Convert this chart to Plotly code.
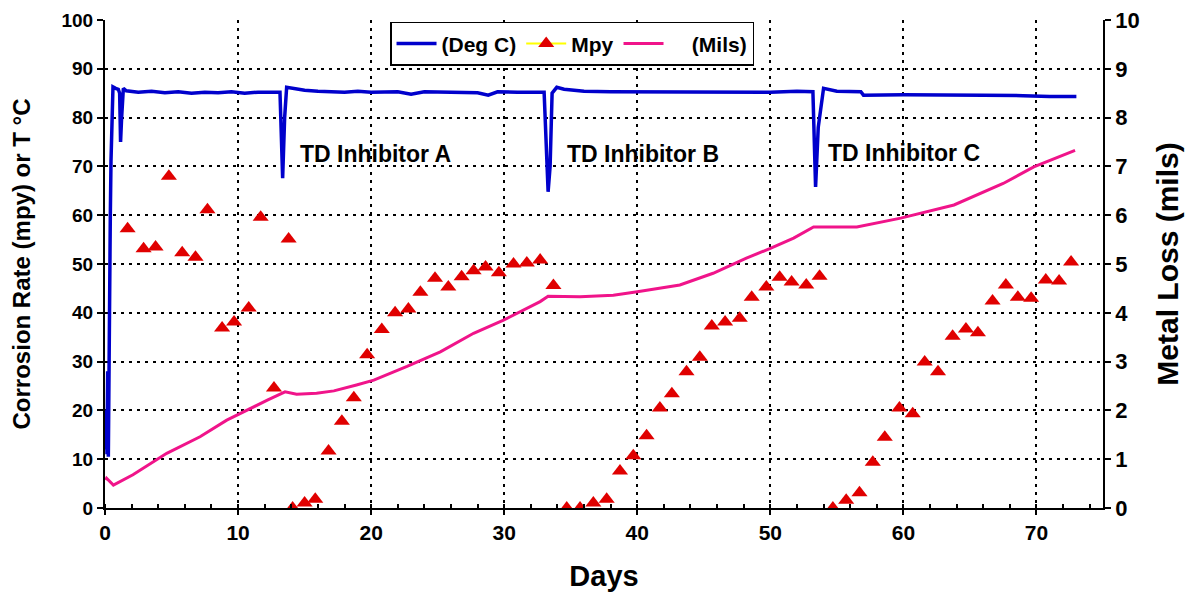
import plotly.graph_objects as go

# ---- Temperature (Deg C), left axis ----
temp_days = [0.05, 0.1, 0.15, 0.2, 0.25, 0.3, 0.35, 0.4, 0.45, 0.5, 0.6, 0.8, 1.0, 1.1, 1.17, 1.25, 1.38,
             1.6, 2.5, 3.5, 4.5, 5.5, 6.5, 7.5, 8.5, 9.5, 10.5, 11.5, 12.5, 13.15, 13.35, 13.5, 13.65,
             14.0, 15, 16, 17, 18, 19, 20, 22, 23, 24, 26, 28, 28.8, 29.5, 31, 33.0, 33.3, 33.45, 33.6,
             33.95, 34.5, 36, 38, 40, 42, 44, 46, 48, 50, 52, 53.2, 53.4, 53.6, 54.0, 55, 56.8, 57,
             60, 63, 66, 69, 71, 73]
temp_vals = [12, 20, 11, 28, 10.5, 33, 45, 60, 71, 78, 86.3, 86, 85.8, 85, 75, 80, 86,
             85.5, 85.2, 85.4, 85.1, 85.3, 85.0, 85.2, 85.1, 85.3, 85.0, 85.2, 85.1, 85.2, 67.6, 80, 86.2,
             86.0, 85.6, 85.4, 85.3, 85.2, 85.4, 85.2, 85.3, 84.8, 85.3, 85.2, 85.1, 84.6, 85.3, 85.2, 85.2, 64.8, 70, 85,
             86.2, 85.8, 85.4, 85.3, 85.3, 85.2, 85.3, 85.2, 85.3, 85.2, 85.4, 85.3, 65.8, 78, 86.0, 85.4, 85.3, 84.6,
             84.7, 84.7, 84.6, 84.5, 84.3, 84.3]

# ---- Corrosion rate (Mpy), left axis ----
mpy_days = [1.7, 2.9, 3.8, 4.8, 5.8, 6.8, 7.7, 8.8, 9.7, 10.8, 11.7, 12.7, 13.8, 14.1, 15.0, 15.8,
            16.8, 17.8, 18.7, 19.7, 20.8, 21.8, 22.8, 23.7, 24.8, 25.8, 26.8, 27.7, 28.6, 29.6, 30.7,
            31.7, 32.7, 33.7, 34.7, 35.7, 36.7, 37.7, 38.7, 39.7, 40.7, 41.7, 42.6, 43.7, 44.7, 45.6,
            46.6, 47.7, 48.6, 49.7, 50.7, 51.6, 52.7, 53.7, 54.7, 55.7, 56.7, 57.7, 58.6, 59.7, 60.7,
            61.6, 62.6, 63.7, 64.7, 65.6, 66.7, 67.7, 68.6, 69.6, 70.7, 71.7, 72.6]
mpy_vals = [57.2, 53.1, 53.5, 68.0, 52.3, 51.4, 61.1, 36.9, 38.1, 41.0, 59.6, 24.6, 55.1, 0, 1.0, 1.8,
            11.7, 17.8, 22.6, 31.4, 36.6, 40.0, 40.8, 44.2, 47.1, 45.3, 47.4, 48.6, 49.4, 48.2, 50.0,
            50.2, 50.8, 45.6, 0, 0, 1.0, 1.8, 7.6, 10.7, 14.8, 20.5, 23.4, 27.9, 30.9, 37.3,
            38.1, 38.9, 43.2, 45.3, 47.3, 46.3, 45.7, 47.5, 0, 1.6, 3.1, 9.4, 14.5, 20.5, 19.3,
            29.9, 27.9, 35.2, 36.7, 35.9, 42.4, 45.7, 43.2, 43.0, 46.7, 46.5, 50.4]

# ---- Metal loss (Mils), right axis ----
mils_days = [0.05, 0.12, 0.63, 2.1, 4.64, 7.14, 9.15, 10.65, 12.2, 13.53, 14.4, 15.9, 17.2, 18.9,
             20.2, 22.7, 25.2, 27.7, 29.95, 32.7, 33.3, 35.7, 38.2, 40, 43.2, 45.7, 48.2, 50, 51.75,
             53.25, 53.8, 56.5, 59.8, 63.8, 67.5, 69.8, 72.9]
mils_vals = [0.57, 0.61, 0.47, 0.68, 1.12, 1.46, 1.80, 2.01, 2.21, 2.38, 2.33, 2.35, 2.40, 2.52,
             2.62, 2.90, 3.20, 3.58, 3.85, 4.23, 4.34, 4.33, 4.36, 4.43, 4.57, 4.81, 5.12, 5.32, 5.53,
             5.76, 5.76, 5.76, 5.94, 6.21, 6.65, 6.99, 7.33]

mils_ticks = [0, 1, 2, 3, 4, 5, 6, 7, 8, 9, 10]

labels = ["TD Inhibitor A", "TD Inhibitor B", "TD Inhibitor C"]
label_x = [14.5, 34.6, 54.2]
label_y = [72.5, 72.5, 72.8]

FONT = "Arial, Liberation Sans, sans-serif"
BLUE = "#0000CC"
PINK = "#F0148A"
RED = "#E00000"

fig = go.Figure()
fig.add_trace(go.Scatter(x=temp_days, y=temp_vals, mode="lines", name="(Deg C)",
                         line=dict(color=BLUE, width=3.5)))
fig.add_trace(go.Scatter(x=mpy_days, y=mpy_vals, mode="markers", name="Mpy", showlegend=False,
                         marker=dict(symbol="triangle-up", size=14, color=RED)))
fig.add_trace(go.Scatter(x=[None], y=[None], mode="lines+markers", name="Mpy",
                         line=dict(color="#FFFF00", width=2),
                         marker=dict(symbol="triangle-up", size=14, color=RED)))
fig.add_trace(go.Scatter(x=mils_days, y=mils_vals, mode="lines", name="\u00a0\u00a0\u00a0\u00a0(Mils)",
                         line=dict(color=PINK, width=3), yaxis="y2"))

for t, x, y in zip(labels, label_x, label_y):
    fig.add_annotation(x=x, y=y, text=t, showarrow=False, xanchor="left", yanchor="middle",
                       font=dict(family=FONT, size=23, color="black", weight="bold"))

grid = dict(showgrid=True, gridcolor="black", gridwidth=2, griddash="3px,5px")

# page body has an 8px margin, so the figure is sized to end at the window edge
fig.update_layout(
    width=1186, height=588, autosize=False,
    margin=dict(l=97, r=91, t=12, b=88),
    paper_bgcolor="white", plot_bgcolor="white",
    font=dict(family=FONT, size=18, color="black", weight="bold"),
    showlegend=True,
    legend=dict(orientation="h", x=0.2856, y=0.996, xanchor="left", yanchor="top",
                bgcolor="white", bordercolor="black", borderwidth=1.5,
                font=dict(family=FONT, size=21, color="black", weight="bold"),
                itemwidth=40, tracegroupgap=0),
    xaxis=dict(range=[0, 75], dtick=10, tick0=0, **grid, zeroline=False, automargin=False,
               showline=True, linecolor="black", linewidth=2,
               ticks="outside", ticklen=5, tickcolor="black", tickwidth=2,
               minor=dict(dtick=2, ticks="inside", ticklen=4, tickcolor="black", showgrid=False),
               title=dict(text="Days", font=dict(family=FONT, size=29, weight="bold"), standoff=22),
               tickfont=dict(family=FONT, size=21, weight="bold")),
    yaxis=dict(range=[0, 100], dtick=10, **grid, zeroline=False, automargin=False,
               showline=True, linecolor="black", linewidth=2,
               ticks="outside", ticklen=6, tickcolor="black", tickwidth=2,
               ticklabeloverflow="allow",
               title=dict(text="Corrosion Rate (mpy) or T °C",
                          font=dict(family=FONT, size=24, weight="bold"), standoff=26),
               tickfont=dict(family=FONT, size=19, weight="bold")),
    yaxis2=dict(range=[0, 10], tickmode="array", tickvals=mils_ticks,
                overlaying="y", side="right", showgrid=False, zeroline=False,
                automargin=False, ticklabeloverflow="allow",
                showline=True, linecolor="black", linewidth=1.5,
                ticks="outside", ticklen=6, tickcolor="black", tickwidth=1.5,
                title=dict(text="Metal Loss (mils)", font=dict(family=FONT, size=30, weight="bold"),
                           standoff=18),
                tickfont=dict(family=FONT, size=22, weight="bold")),
)

fig.write_html("out.html")
